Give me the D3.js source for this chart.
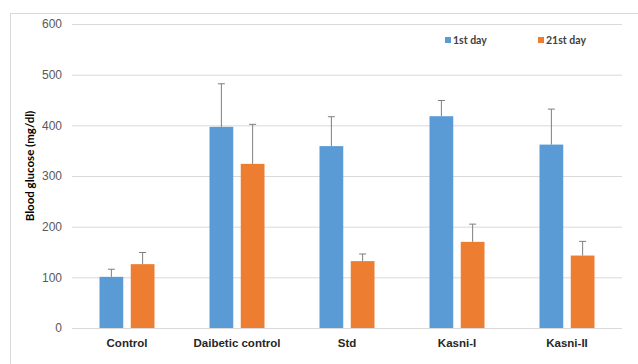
<!DOCTYPE html>
<html>
<head>
<meta charset="utf-8">
<script src="https://cdn.jsdelivr.net/npm/d3@7"></script>
<style>
  html, body { margin: 0; padding: 0; background: #fff; }
  svg { display: block; font-family: Lato, "Open Sans", sans-serif; }
</style>
</head>
<body>
<svg id="chart" width="638" height="364"></svg>
<script>
// Groups and the two measurement days
const categories = ["Control", "Daibetic control", "Std", "Kasni-I", "Kasni-II"];
const seriesNames = ["1st day", "21st day"];
const day1 = [101, 397, 359, 418, 362];
const day21 = [126, 324, 132, 170, 143];
const day1Err = [15, 85, 58, 31, 70];
const day21Err = [23, 78, 14, 35, 28];
const yTicks = [0, 100, 200, 300, 400, 500, 600];
const colors = ["#5B9BD5", "#ED7D31"];

const svg = d3.select("#chart");
const W = 638, H = 364;
const margin = { left: 72, right: 16, top: 24, bottom: 36 };

// Chart-area frame
svg.append("rect")
  .attr("x", 10.5).attr("y", 13.5)
  .attr("width", W).attr("height", H)
  .attr("fill", "none").attr("stroke", "#d9d9d9");

const x0 = d3.scaleBand()
  .domain(categories)
  .range([margin.left, W - margin.right]);
const x1 = d3.scaleBand()
  .domain(seriesNames)
  .range([0, 55])
  .paddingInner(0.24);
const y = d3.scaleLinear().domain([0, 600]).range([328, 24]);

// Gridlines and tick labels
const yAxis = d3.axisLeft(y).tickValues(yTicks)
  .tickSize(-(W - margin.right - margin.left)).tickPadding(10);
const gy = svg.append("g").attr("transform", `translate(${margin.left},0)`).call(yAxis);
gy.select(".domain").remove();
gy.selectAll(".tick line").attr("stroke", "#d9d9d9");
gy.selectAll(".tick text").attr("fill", "#595959").attr("font-size", 12);

// Category axis labels
const xAxis = d3.axisBottom(x0).tickSize(0).tickPadding(11);
const gx = svg.append("g").attr("transform", `translate(0,${y(0)})`).call(xAxis);
gx.select(".domain").remove();
gx.selectAll(".tick text").attr("fill", "#262626").attr("font-size", 11.5).attr("font-weight", "bold");

const rows = categories.map((c, i) => ({
  cat: c,
  vals: [
    { s: seriesNames[0], v: day1[i], e: day1Err[i], c: colors[0] },
    { s: seriesNames[1], v: day21[i], e: day21Err[i], c: colors[1] }
  ]
}));

const groups = svg.append("g").selectAll("g").data(rows).join("g")
  .attr("transform", d => `translate(${x0(d.cat) + x0.bandwidth() / 2 - 27.5},0)`);

groups.selectAll("rect").data(d => d.vals).join("rect")
  .attr("x", d => x1(d.s))
  .attr("y", d => y(d.v))
  .attr("width", x1.bandwidth())
  .attr("height", d => y(0) - y(d.v))
  .attr("fill", d => d.c);

// Upper error bars
const err = groups.selectAll("g.err").data(d => d.vals).join("g").attr("class", "err");
err.append("line")
  .attr("x1", d => x1(d.s) + x1.bandwidth() / 2)
  .attr("x2", d => x1(d.s) + x1.bandwidth() / 2)
  .attr("y1", d => y(d.v))
  .attr("y2", d => y(d.v + d.e))
  .attr("stroke", "#7f7f7f").attr("stroke-width", 1);
err.append("line")
  .attr("x1", d => x1(d.s) + x1.bandwidth() / 2 - 3.5)
  .attr("x2", d => x1(d.s) + x1.bandwidth() / 2 + 3.5)
  .attr("y1", d => y(d.v + d.e))
  .attr("y2", d => y(d.v + d.e))
  .attr("stroke", "#7f7f7f").attr("stroke-width", 1);

// Axis title
svg.append("text")
  .attr("transform", "translate(34,166) rotate(-90)")
  .attr("text-anchor", "middle")
  .attr("font-size", 11.5).attr("font-weight", "bold").attr("fill", "#000")
  .text("Blood glucose (mg/dl)");

// Legend
const legendX = [445, 538];
const lg = svg.append("g").selectAll("g").data(seriesNames).join("g")
  .attr("transform", (d, i) => `translate(${legendX[i]},40)`);
lg.append("rect").attr("x", 0).attr("y", -3).attr("width", 6).attr("height", 6)
  .attr("fill", (d, i) => colors[i]);
lg.append("text").attr("x", 8).attr("y", 0).attr("dy", "0.35em")
  .attr("font-size", 10.5).attr("font-weight", "bold").attr("fill", "#404040")
  .text(d => d);
</script>
</body>
</html>
